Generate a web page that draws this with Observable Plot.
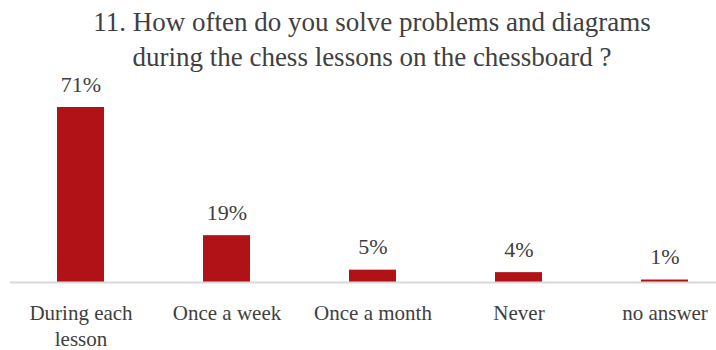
<!DOCTYPE html>
<html>
<head>
<meta charset="utf-8">
<script src="https://cdn.jsdelivr.net/npm/d3@7"></script>
<script src="https://cdn.jsdelivr.net/npm/@observablehq/plot@0.6"></script>
<style>
  body { margin: 0; background: #fff; }
  #title { width: 744px; padding-top: 5px; height: 60px; overflow: visible; text-align: center;
    font-family: "Liberation Serif", serif; font-size: 27px; line-height: 35px; color: #404040; }
  svg { display: block; overflow: visible; }
</style>
</head>
<body>
<div id="title">11. How often do you solve problems and diagrams<br>during the chess lessons on the chessboard ?</div>
<div id="chart"></div>
<script>
const categories = ["During each lesson", "Once a week", "Once a month", "Never", "no answer"];
const tickLabels = ["During each\nlesson", "Once a week", "Once a month", "Never", "no answer"];
const values = [71, 19, 5, 4, 1];

const data = categories.map((c, i) => ({category: c, value: values[i], label: values[i] + "%"}));
const labelOf = new Map(categories.map((c, i) => [c, tickLabels[i]]));

const chart = Plot.plot({
  width: 716,
  height: 285,
  marginLeft: 10,
  marginRight: 0,
  marginTop: 0,
  marginBottom: 68,
  style: {fontFamily: "Liberation Serif, serif", color: "#404040", background: "#fff"},
  x: {domain: categories, range: [7, 737], paddingInner: 0.68, paddingOuter: 0.34},
  y: {domain: [0, 71], range: [217, 42], axis: null},
  marks: [
    Plot.barY(data, {x: "category", y: "value", fill: "#b01217"}),
    Plot.ruleY([0], {stroke: "#d9d9d9", strokeWidth: 2}),
    Plot.text(data, {x: "category", y: "value", text: "label", dy: -23, fontSize: 22, fill: "#404040"}),
    Plot.axisX({tickSize: 0, tickPadding: 18, fontSize: 21, lineHeight: 1.28, tickFormat: d => labelOf.get(d), label: null, fill: "#404040"})
  ]
});
document.getElementById("chart").appendChild(chart);
</script>
</body>
</html>
